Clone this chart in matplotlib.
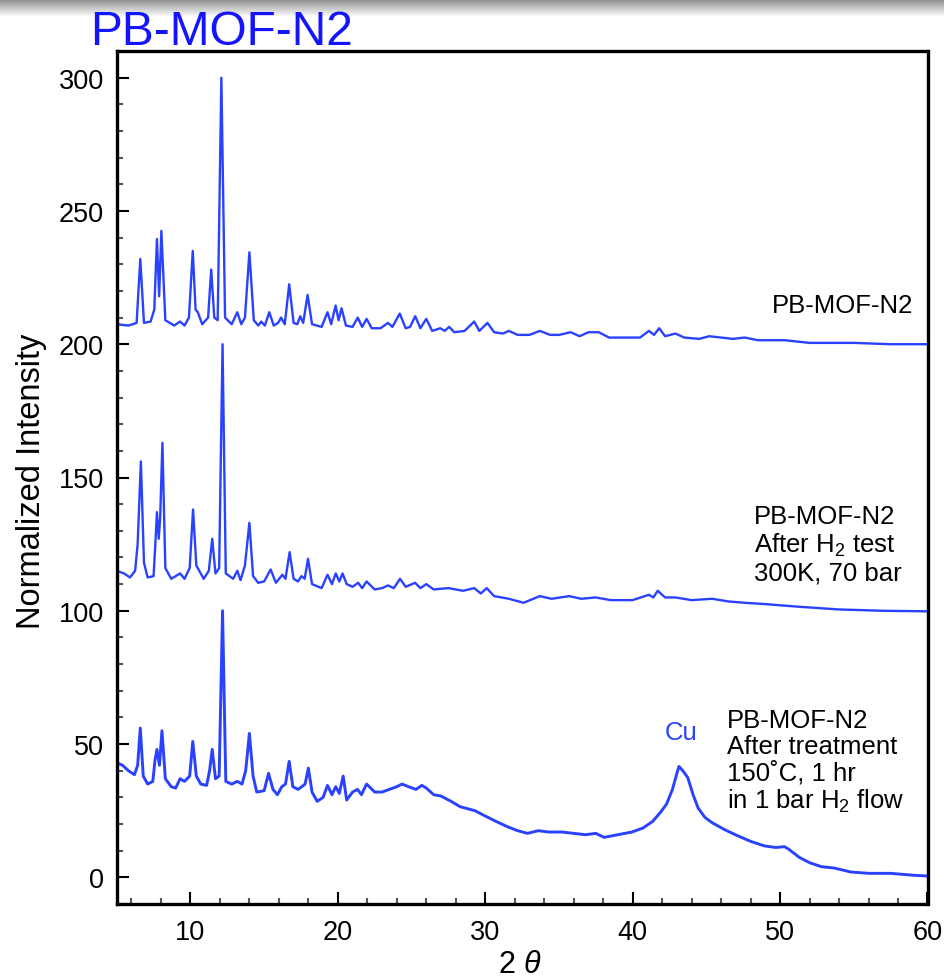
import numpy as np
import matplotlib
matplotlib.use("Agg")
import matplotlib.pyplot as plt
from matplotlib.ticker import MultipleLocator

plt.rcParams['font.family'] = ['Liberation Sans', 'DejaVu Sans']
plt.rcParams['mathtext.fontset'] = 'custom'
plt.rcParams['mathtext.rm'] = 'Liberation Sans'
plt.rcParams['mathtext.it'] = 'Liberation Sans:italic'

# as-synthesized PB-MOF-N2 (offset +200)
x_top = [5.0, 5.8, 6.35, 6.6, 6.85, 7.3, 7.55, 7.73, 7.88, 8.03, 8.3, 8.9, 9.3, 9.6, 9.9,
         10.16, 10.35, 10.5, 10.8, 11.2, 11.41, 11.62, 11.85, 12.1, 12.35, 12.8, 13.18, 13.45,
         13.7, 14.0, 14.3, 14.6, 14.8, 15.05, 15.35, 15.65, 15.95, 16.15, 16.4, 16.7, 17.0,
         17.25, 17.45, 17.65, 17.95, 18.25, 18.9, 19.3, 19.55, 19.85, 20.05, 20.25, 20.55,
         21.0, 21.35, 21.65, 21.95, 22.3, 22.9, 23.4, 23.7, 24.2, 24.6, 24.9, 25.25, 25.6,
         26.0, 26.4, 26.95, 27.25, 27.55, 27.9, 28.6, 29.25, 29.6, 30.15, 30.6, 31.2, 31.6,
         32.2, 33.0, 33.7, 34.4, 35.0, 35.8, 36.4, 37.0, 37.7, 38.4, 39.5, 40.5, 41.1, 41.45,
         41.8, 42.2, 42.9, 43.5, 44.5, 45.2, 46.0, 46.8, 47.6, 48.5, 50.3, 52.0, 55.0, 57.5, 60.0]
y_top = [207.5, 207, 208, 232, 208, 208.5, 213, 239.5, 218, 242.5, 209, 207, 208.5, 207, 210,
         235, 213, 212, 207.5, 210, 228, 210, 209, 300, 210, 207.5, 212, 207.5,
         210, 234.5, 209, 207, 208.5, 207, 212, 207, 208, 210, 207.5, 222.5, 208,
         207.5, 210.5, 208, 218.5, 207.5, 206.5, 212, 207.5, 214.5, 209, 213.5, 207,
         206.5, 210, 206.5, 209.5, 206, 206, 208, 206.5, 211.5, 206, 206.5, 210.5, 206,
         209.5, 205, 206, 205, 206.5, 204.5, 205, 208.5, 205, 208, 204.5, 204, 205,
         203.5, 203.5, 205, 203.5, 203.5, 204.5, 203, 204.5, 204.5, 202.5, 202.5, 202.5, 205, 203.5,
         206, 203, 204, 202.5, 202, 203, 202.5, 202, 202.5, 201.5, 201.5, 200.5, 200.5, 200, 200]

# after H2 test 300K, 70 bar (offset +100)
x_mid = [5.0, 5.5, 5.9, 6.25, 6.42, 6.64, 6.85, 7.1, 7.5, 7.62, 7.73, 7.85, 7.95, 8.1, 8.3,
         8.7, 9.3, 9.6, 9.95, 10.18, 10.4, 10.6, 10.9, 11.25, 11.48, 11.7, 11.95, 12.18, 12.4,
         12.9, 13.18, 13.4, 13.7, 14.0, 14.25, 14.6, 15.0, 15.44, 15.8, 16.24, 16.45, 16.73,
         17.0, 17.3, 17.53, 17.75, 17.98, 18.25, 18.9, 19.3, 19.6, 19.86, 20.1, 20.32, 20.6,
         21.0, 21.38, 21.65, 21.95, 22.5, 23.0, 23.4, 23.8, 24.22, 24.6, 25.24, 25.6, 26.0,
         26.5, 27.5, 28.5, 29.25, 29.7, 30.1, 30.6, 31.6, 32.6, 33.7, 34.5, 35.7, 36.5, 37.5,
         38.5, 40.0, 41.1, 41.4, 41.7, 42.2, 42.9, 44.0, 45.4, 46.5, 47.6, 49.0, 51.3, 54.0,
         57.0, 60.0]
y_mid = [115, 114, 112.5, 115, 125, 156, 118, 112.5, 113, 125, 137, 127, 135, 163, 116,
         112, 114, 112, 116, 138, 117, 115, 112, 115, 127, 114, 116, 200, 114,
         112, 115, 111.5, 117, 133, 113, 110.5, 111, 115.5, 110.5, 113.5, 112, 122,
         112, 111, 113, 112, 119.5, 110, 108.5, 113.5, 110, 114, 111, 114, 110,
         109, 110.5, 108.5, 111, 108, 108.5, 109.5, 108.5, 112, 109, 110.5, 108.5, 110,
         108, 108.5, 107.5, 108.5, 106.5, 108.5, 105.5, 104.5, 103, 105.5, 104.5, 105.5, 104.5, 105,
         104, 104, 106, 105, 107.5, 105, 105, 104, 104.5, 103.5, 103, 102.5, 101.5, 100.5,
         100, 99.8]

# after treatment 150 C, 1 hr in 1 bar H2 flow
x_bot = [5.0, 5.4, 5.8, 6.2, 6.42, 6.6, 6.8, 7.1, 7.45, 7.6, 7.73, 7.9, 8.07, 8.3, 8.7,
         9.0, 9.3, 9.6, 9.95, 10.16, 10.4, 10.7, 11.1, 11.3, 11.48, 11.7, 11.95, 12.18, 12.4,
         12.8, 13.18, 13.5, 13.75, 14.0, 14.25, 14.5, 15.0, 15.3, 15.6, 15.9, 16.2, 16.45,
         16.7, 16.95, 17.3, 17.55, 17.78, 18.0, 18.25, 18.6, 19.0, 19.3, 19.6, 19.86, 20.1,
         20.36, 20.6, 21.0, 21.34, 21.6, 21.95, 22.5, 23.0, 23.5, 24.0, 24.35, 24.8, 25.3,
         25.7, 26.0, 26.5, 27.0, 27.65, 28.3, 29.3, 30.0, 30.73, 31.5, 32.2, 32.86, 33.6,
         34.3, 35.2, 36.0, 36.8, 37.5, 38.06, 39.0, 39.95, 40.7, 41.36, 41.9, 42.3, 42.7,
         43.0, 43.14, 43.4, 43.73, 44.1, 44.44, 44.9, 45.39, 46.2, 47.04, 48.0, 48.93, 49.7,
         50.3, 50.6, 51.3, 52.0, 52.8, 53.67, 54.8, 56.03, 57.5, 59.0, 60.0]
y_bot = [43, 42, 40, 38.5, 42, 56, 38, 35, 36, 44, 48, 42, 55, 37, 34,
         33.5, 37, 36, 38, 51, 38, 35, 34.5, 40, 48, 37, 38, 100, 36,
         35, 36, 35, 40, 54, 38, 32, 32.5, 39, 33, 31, 34, 35,
         43.5, 34, 33, 34, 35, 41, 32, 28.5, 30, 34.5, 31, 34, 31.5,
         38, 29, 32, 33, 31, 35, 32, 32, 33, 34, 35, 34, 33,
         34.5, 33.5, 31, 30.5, 28.6, 26.5, 25, 23, 21, 19, 17.5, 16.5, 17.5,
         17, 17, 16.5, 16, 16.5, 15, 16, 17, 18.5, 21, 24.5, 27.5, 33,
         39, 41.6, 40, 37.5, 31, 26, 22.5, 20.5, 18, 15.8, 13.5, 11.8, 11.2,
         11.5, 10.5, 7.5, 5.5, 4, 3.5, 2, 1.5, 1.5, 0.8, 0.5]

line_color = '#2a42ff'

fig = plt.figure(figsize=(9.45, 9.79), dpi=100)
ax = fig.add_axes([116.7 / 945, 1 - 905 / 979, (927.5 - 116.7) / 945, (905 - 52) / 979])

ax.plot(x_top, y_top, color=line_color, lw=1.7)
ax.plot(x_mid, y_mid, color=line_color, lw=1.7)
ax.plot(x_bot, y_bot, color=line_color, lw=2.1)

ax.set_xlim(5, 60)
ax.set_ylim(-10, 310)
ax.xaxis.set_major_locator(MultipleLocator(10))
ax.xaxis.set_minor_locator(MultipleLocator(2))
ax.yaxis.set_major_locator(MultipleLocator(50))
ax.yaxis.set_minor_locator(MultipleLocator(10))
ax.tick_params(which='both', direction='in', width=1.5, labelsize=19.5,
               top=False, right=False, color='black')
ax.tick_params(which='major', length=8.5)
ax.tick_params(which='minor', length=4.3, color='#555555')
ax.tick_params(axis='y', pad=9)
ax.tick_params(axis='x', pad=11)
for sp in ax.spines.values():
    sp.set_linewidth(2.4)

txt = dict(fontsize=18.5, color='black')
ax.text(59.0, 214.6, 'PB-MOF-N2', ha='right', va='center', **txt)
ax.text(48.2, 140.0, 'PB-MOF-N2\nAfter H$_2$ test\n300K, 70 bar',
        ha='left', va='top', linespacing=1.12, **txt)
ax.text(46.4, 63.5, 'PB-MOF-N2\nAfter treatment\n150\u02daC, 1 hr\nin 1 bar H$_2$ flow',
        ha='left', va='top', linespacing=1.1, **txt)
ax.text(43.26, 54.7, 'Cu', ha='center', va='center', fontsize=18.5, color=line_color)

fig.text(32 / 945, 1 - 481 / 979, 'Normalized Intensity', rotation=90,
         ha='center', va='center', fontsize=23.5)
fig.text(520 / 945, 1 - 965 / 979, '2 $\\theta$', ha='center', va='center', fontsize=22)
fig.text(90 / 945, 1 - 45 / 979, 'PB-MOF-N2', ha='left', va='baseline',
         fontsize=34.5, color='#1414ff')

# grey shadow band along the top edge
band = fig.add_axes([0, 1 - 18 / 979, 1, 18 / 979])
band.imshow(np.linspace(0.55, 1.0, 50).reshape(-1, 1), cmap='gray', vmin=0, vmax=1,
            aspect='auto', extent=[0, 1, 0, 1])
band.axis('off')

fig.savefig('out.png', dpi=100)
